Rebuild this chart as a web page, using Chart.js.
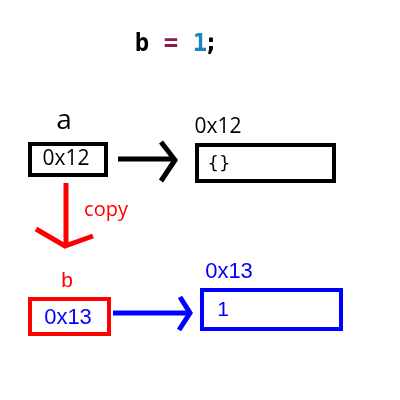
<!DOCTYPE html>
<html>
<head>
<meta charset="utf-8">
<script src="https://cdn.jsdelivr.net/npm/chart.js@4"></script>
<style>
  html, body { margin: 0; padding: 0; background: #fff; }
  #wrap { width: 400px; height: 400px; }
</style>
</head>
<body>
<div id="wrap"><canvas id="diagram" width="400" height="400"></canvas></div>
<script>
/* ── diagram data (diagram units, 0..400) ─────────────────── */

// boxes: [left, top, right, bottom]
const boxNames  = ['a', 'obj12', 'b', 'obj13'];
const boxLeft   = [30, 197, 30, 202];
const boxTop    = [144, 145, 299, 290];
const boxRight  = [106, 334, 109, 341];
const boxBottom = [175, 181, 334, 329];
const boxColors = ['#000000', '#000000', '#ff0000', '#0000ff'];

// arrows: shaft from -> to, head = [wing1, tip, wing2]
const arrowShaftX = [[118, 172], [66, 66], [113, 188]];
const arrowShaftY = [[159, 159], [183, 246], [313, 313]];
const arrowHeadX  = [[161, 175, 161], [36, 65, 93], [180, 190, 179]];
const arrowHeadY  = [[142, 160, 181], [229, 246, 236], [297, 313, 330]];
const arrowColors = ['#000000', '#ff0000', '#0000ff'];

// texts
const labelText   = ['b', '=', '1', ';', 'a', '0x12', '0x12', '{}', 'copy', 'b', '0x13', '0x13', '1'];
const labelX      = [142, 171, 200, 211, 64, 66, 218, 219, 106, 67, 68, 229, 223];
const labelY      = [45, 45, 45, 45, 121, 159, 127, 164, 210, 281, 318, 272, 310];
const labelColors = ['#000000', '#8b1a4b', '#1787c4', '#000000', '#000000', '#000000', '#000000',
                     '#000000', '#ff0000', '#ff0000', '#0000ff', '#0000ff', '#0000ff'];
const labelFonts  = [
  'bold 24px "DejaVu Sans Mono"', 'bold 24px "DejaVu Sans Mono"',
  'bold 24px "DejaVu Sans Mono"', 'bold 24px "DejaVu Sans Mono"',
  '28px "Open Sans"', '21px "Open Sans"', '21px "Open Sans"', '18px "DejaVu Sans"',
  '20px "Open Sans"', '21px "Liberation Sans"', '22px "Liberation Sans"',
  '22px "Liberation Sans"', '21px "Liberation Sans"'
];

/* ── build datasets ────────────────────────────────────────── */
const datasets = [];

boxNames.forEach((name, i) => {
  datasets.push({
    label: name,
    data: [
      { x: boxLeft[i],  y: boxTop[i] },
      { x: boxRight[i], y: boxTop[i] },
      { x: boxRight[i], y: boxBottom[i] },
      { x: boxLeft[i],  y: boxBottom[i] },
      { x: boxLeft[i],  y: boxTop[i] },
    ],
    showLine: true,
    borderColor: boxColors[i],
    borderWidth: 4,
    borderJoinStyle: 'miter',
    borderCapStyle: 'square',
    pointRadius: 0,
  });
});

arrowColors.forEach((col, i) => {
  datasets.push({
    data: arrowShaftX[i].map((x, k) => ({ x, y: arrowShaftY[i][k] })),
    showLine: true, borderColor: col, borderWidth: 5, pointRadius: 0,
  });
  datasets.push({
    data: arrowHeadX[i].map((x, k) => ({ x, y: arrowHeadY[i][k] })),
    showLine: true, borderColor: col, borderWidth: 5, pointRadius: 0,
    borderJoinStyle: 'miter',
  });
});

// text labels, placed through the chart scales
const textPlugin = {
  id: 'diagramText',
  afterDatasetsDraw(chart) {
    const { ctx, scales: { x, y } } = chart;
    ctx.save();
    ctx.textAlign = 'center';
    ctx.textBaseline = 'middle';
    labelText.forEach((t, i) => {
      ctx.font = labelFonts[i];
      ctx.fillStyle = labelColors[i];
      ctx.fillText(t, x.getPixelForValue(labelX[i]), y.getPixelForValue(labelY[i]));
    });
    ctx.restore();
  }
};

new Chart(document.getElementById('diagram'), {
  type: 'scatter',
  data: { datasets },
  options: {
    responsive: false,
    animation: false,
    devicePixelRatio: 1,
    layout: { padding: 0 },
    plugins: { legend: { display: false }, tooltip: { enabled: false } },
    scales: {
      x: { type: 'linear', min: 0, max: 400, display: false },
      y: { type: 'linear', min: 0, max: 400, reverse: true, display: false },
    },
  },
  plugins: [textPlugin],
});
</script>
</body>
</html>
